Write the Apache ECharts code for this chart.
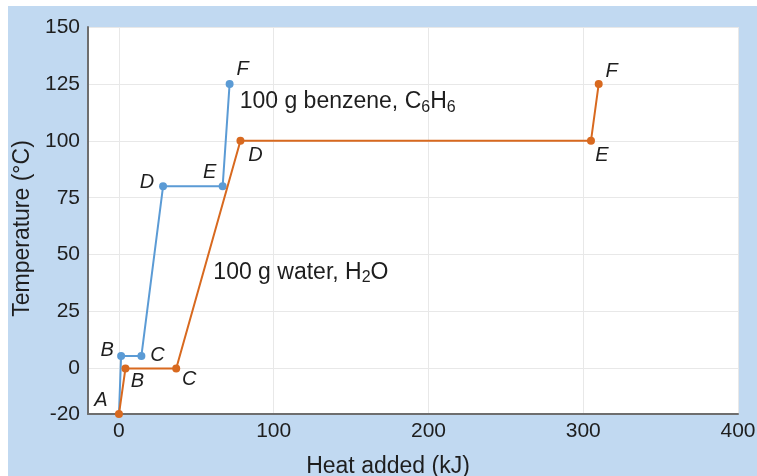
<!DOCTYPE html>
<html>
<head>
<meta charset="utf-8">
<script src="https://cdn.jsdelivr.net/npm/echarts@6/dist/echarts.min.js"></script>
<style>html,body{margin:0;padding:0;background:#fff;}#c{width:757px;height:476px;}</style>
</head>
<body>
<div id="c"></div>
<script>
// Data
const pointNames = ['A', 'B', 'C', 'D', 'E', 'F'];
const benzeneHeat = [0, 1.4, 14.5, 28.5, 67, 71.5];
const benzeneTemp = [-20, 5.5, 5.5, 80, 80, 125];
const waterHeat = [0, 4.2, 37, 78.5, 305, 310];
const waterTemp = [-20, 0, 0, 100, 100, 125];
const xTicks = [0, 100, 200, 300, 400];
const yTicks = [-20, 0, 25, 50, 75, 100, 125, 150];
const benzeneNote = { x: 78, y: 117 };
const waterNote = { x: 61, y: 42 };

// label offsets (style)
const benzeneLabelOffsets = [null, [-14, -6], [16, -1], [-16, -4], [-13, -14], [13, -14]];
const waterLabelOffsets = [[-18, -14], [12, 13], [13, 11], [15, 15], [11, 15], [13, -12]];

const blue = '#5b9bd5';
const orange = '#d8691f';
const font = 'Liberation Sans, Arial, sans-serif';

function buildData(xs, ys, offs, showFirst) {
  return xs.map((x, i) => {
    const o = offs[i];
    return {
      value: [x, ys[i]],
      name: pointNames[i],
      symbolSize: (i === 0 && !showFirst) ? 0 : 8,
      label: o ? { show: true, offset: o } : { show: false }
    };
  });
}

const chart = echarts.init(document.getElementById('c'));
chart.setOption({
  backgroundColor: '#ffffff',
  animation: false,
  graphic: [{
    type: 'rect', z: -10, silent: true,
    shape: { x: 8, y: 6, width: 757, height: 476 },
    style: { fill: '#c1d9f1' }
  }],
  grid: {
    left: 88, right: 19, top: 27, bottom: 62,
    outerBoundsMode: 'none', containLabel: false,
    show: true, backgroundColor: '#ffffff', borderWidth: 0
  },
  xAxis: {
    type: 'value', min: -20, max: 400,
    name: 'Heat added (kJ)', nameLocation: 'middle', nameGap: 41,
    nameTextStyle: { fontFamily: font, fontSize: 23, color: '#1e1e1e', padding: [0, 50, 0, 0] },
    axisLine: { show: true, onZero: false, lineStyle: { color: '#6e6e6e', width: 2 } },
    axisTick: { show: false, customValues: xTicks },
    axisLabel: { customValues: xTicks, fontFamily: font, fontSize: 21, color: '#1e1e1e', margin: 7 },
    splitLine: { show: true, lineStyle: { color: '#e8e8e8', width: 1 } }
  },
  yAxis: {
    type: 'value', min: -20, max: 150,
    name: 'Temperature (°C)', nameLocation: 'middle', nameGap: 54,
    nameTextStyle: { fontFamily: font, fontSize: 23, color: '#1e1e1e', padding: [0, 16, 0, 0] },
    axisLine: { show: true, onZero: false, lineStyle: { color: '#6e6e6e', width: 2 } },
    axisTick: { show: false, customValues: yTicks },
    axisLabel: { customValues: yTicks, fontFamily: font, fontSize: 21, color: '#1e1e1e', margin: 8 },
    splitLine: { show: true, lineStyle: { color: '#e8e8e8', width: 1 } }
  },
  series: [
    {
      type: 'line', name: 'benzene', z: 3,
      data: buildData(benzeneHeat, benzeneTemp, benzeneLabelOffsets, false),
      symbol: 'circle',
      itemStyle: { color: blue },
      lineStyle: { color: blue, width: 2 },
      label: { position: 'inside', formatter: '{b}', fontFamily: font, fontSize: 20, fontStyle: 'italic', color: '#1e1e1e' }
    },
    {
      type: 'line', name: 'water', z: 4,
      data: buildData(waterHeat, waterTemp, waterLabelOffsets, true),
      symbol: 'circle',
      itemStyle: { color: orange },
      lineStyle: { color: orange, width: 2 },
      label: { position: 'inside', formatter: '{b}', fontFamily: font, fontSize: 20, fontStyle: 'italic', color: '#1e1e1e' }
    },
    {
      type: 'scatter', symbolSize: 0, silent: true, z: 5,
      itemStyle: { opacity: 1 },
      data: [
        { value: [benzeneNote.x, benzeneNote.y], label: { formatter: '{t|100 g benzene, C}{s|6}{t|H}{s|6}' } },
        { value: [waterNote.x, waterNote.y], label: { formatter: '{t|100 g water, H}{s|2}{t|O}' } }
      ],
      label: {
        show: true, position: 'right', distance: 0, opacity: 1,
        rich: {
          t: { fontFamily: font, fontSize: 23, color: '#1e1e1e' },
          s: { fontFamily: font, fontSize: 16, color: '#1e1e1e', padding: [10, 0, 0, 0] }
        }
      }
    }
  ]
});
</script>
</body>
</html>
